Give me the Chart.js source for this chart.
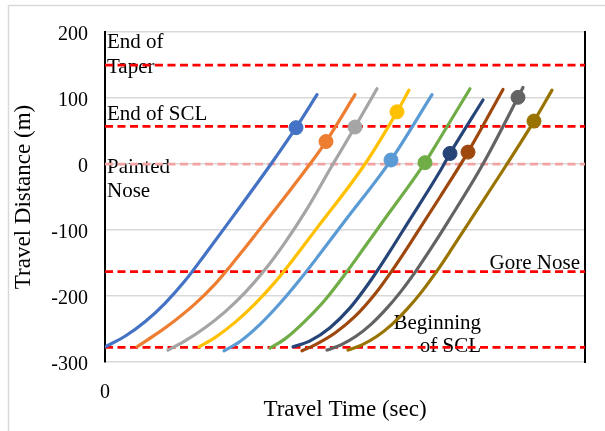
<!DOCTYPE html>
<html>
<head>
<meta charset="utf-8">
<script src="https://cdn.jsdelivr.net/npm/chart.js@4/dist/chart.umd.min.js"></script>
<style>
  html, body { margin: 0; padding: 0; background: #ffffff; }
  #wrap { position: relative; width: 605px; height: 431px; }
</style>
</head>
<body>
<div id="wrap"><canvas id="chart" width="605" height="431"></canvas></div>
<script>
// Vehicle trajectories: travel time (s) against travel distance (m)
const veh1Time  = [0, 2, 4, 6, 8, 10, 12, 16.6, 19.1, 21.2];
const veh1Dist  = [-277, -261, -239, -211, -177, -137, -96, 0, 55, 105];
const veh2Time  = [3.2, 5, 7, 9, 11, 13, 15, 20.5, 22.1, 25.0];
const veh2Dist  = [-277, -259, -237, -212, -182, -146, -108, 0, 34, 105];
const veh3Time  = [6.3, 8, 10, 12, 14, 16, 18, 20, 22.8, 25, 27.2];
const veh3Dist  = [-282, -268, -248, -224, -195, -160, -119, -73, 0, 56, 114];
const veh4Time  = [9.4, 11, 13, 15, 17, 19, 21, 26, 29.2, 30.4];
const veh4Dist  = [-277, -263, -240, -212, -179, -141, -101, 0, 79, 112];
const veh5Time  = [11.9, 13.5, 15.5, 17.5, 19.5, 21.5, 24, 28.6, 32.7];
const veh5Dist  = [-283, -269, -243, -211, -175, -136, -86, 6, 105];
const veh6Time  = [16.5, 18, 20, 22, 24, 26, 27.7, 32.0, 33.5, 36.5];
const veh6Dist  = [-279, -265, -238, -206, -167, -125, -89, 2, 39, 114];
const veh7Time  = [18.8, 20.5, 22.5, 24.5, 26.5, 28.5, 30.2, 33.5, 34.5, 37.8];
const veh7Dist  = [-277, -268, -248, -218, -178, -132, -91, -11, 16, 97];
const veh8Time  = [19.7, 21, 23, 25, 27, 29, 31, 33.5, 36.3, 39.8];
const veh8Dist  = [-283, -274, -256, -231, -197, -155, -109, -50, 18, 113];
const veh9Time  = [22.2, 23.6, 25.1, 26.6, 28.1, 29.6, 31.1, 32.6, 34.4, 37.8, 41.3, 41.8];
const veh9Dist  = [-282, -274, -261, -243, -220, -193, -162, -128, -85, 0, 101, 116];
const veh10Time = [24.3, 25.7, 27.2, 28.7, 30.2, 31.7, 33.2, 34.7, 36.5, 40.2, 42.9, 44.7];
const veh10Dist = [-282, -274, -261, -243, -220, -193, -162, -128, -86, 0, 65, 112];

// Highlighted point on each trajectory
const markerTime = [19.1, 22.1, 25.0, 29.2, 28.6, 32.0, 34.5, 36.3, 41.3, 42.9];
const markerDist = [55, 34, 56, 79, 6, 2, 16, 18, 101, 65];

// Reference locations along the ramp (m)
const refLevels = [150, 57, 0, -163, -278];
const yTicks = [200, 100, 0, -100, -200, -300];
const xTicks = [0];

const vehTimes = [veh1Time, veh2Time, veh3Time, veh4Time, veh5Time, veh6Time, veh7Time, veh8Time, veh9Time, veh10Time];
const vehDists = [veh1Dist, veh2Dist, veh3Dist, veh4Dist, veh5Dist, veh6Dist, veh7Dist, veh8Dist, veh9Dist, veh10Dist];
const vehColors = ['#4472C4', '#ED7D31', '#A5A5A5', '#FFC000', '#5B9BD5',
                   '#70AD47', '#264478', '#9E480E', '#636363', '#997300'];

const SERIF = "'Liberation Serif', 'Times New Roman', serif";
const X_MAX = 48;

const datasets = [];
refLevels.forEach(level => {
  datasets.push({
    data: [{ x: 0, y: level }, { x: X_MAX, y: level }],
    showLine: true,
    borderColor: level === 0 ? '#F4A3A3' : '#FF0000',
    borderWidth: 2.75,
    borderDash: [8, 4.5],
    pointRadius: 0,
    order: 500
  });
});
vehTimes.forEach((times, i) => {
  const color = vehColors[i];
  datasets.push({
    data: times.map((t, j) => ({ x: t, y: vehDists[i][j] })),
    showLine: true,
    borderColor: color,
    borderWidth: 3.2,
    borderCapStyle: 'round',
    pointRadius: 0,
    cubicInterpolationMode: 'monotone',
    order: 100 - 2 * i
  });
  datasets.push({
    data: [{ x: markerTime[i], y: markerDist[i] }],
    showLine: false,
    pointRadius: 7,
    pointBackgroundColor: color,
    pointBorderColor: color,
    pointBorderWidth: 1,
    order: 99 - 2 * i
  });
});

// Light frame around the whole figure
const framePlugin = {
  id: 'frame',
  beforeDraw(chart) {
    const ctx = chart.ctx;
    ctx.save();
    ctx.fillStyle = '#ffffff';
    ctx.fillRect(0, 0, chart.width, chart.height);
    ctx.strokeStyle = '#D9D9D9';
    ctx.lineWidth = 1.5;
    ctx.strokeRect(8.5, 5.5, 800, 600);
    ctx.restore();
  }
};

// Names of the reference locations, placed next to their dashed lines
const refNotes = [
  { level: 150,  lines: ['End of', 'Taper'], side: 'left',  dy: [-17, 8] },
  { level: 57,   lines: ['End of SCL'],      side: 'left',  dy: [-6] },
  { level: 0,    lines: ['Painted', 'Nose'], side: 'left',  dy: [9, 33] },
  { level: -163, lines: ['Gore Nose'],       side: 'right', dy: [-3], inset: 5 },
  { level: -278, lines: ['Beginning', 'of SCL'], side: 'right', dy: [-18, 5], inset: 104 }
];
const notePlugin = {
  id: 'notes',
  beforeDatasetsDraw(chart) {
    const { ctx, chartArea, scales } = chart;
    ctx.save();
    ctx.font = '21px ' + SERIF;
    ctx.fillStyle = '#000000';
    ctx.textBaseline = 'alphabetic';
    refNotes.forEach(n => {
      const yPix = scales.y.getPixelForValue(n.level);
      n.lines.forEach((txt, k) => {
        if (n.side === 'left') {
          ctx.textAlign = 'left';
          ctx.fillText(txt, chartArea.left + 2, yPix + n.dy[k]);
        } else {
          ctx.textAlign = 'right';
          ctx.fillText(txt, chartArea.right - n.inset, yPix + n.dy[k]);
        }
      });
    });
    ctx.restore();
  }
};

new Chart(document.getElementById('chart'), {
  type: 'scatter',
  data: { datasets },
  plugins: [framePlugin, notePlugin],
  options: {
    responsive: false,
    animation: false,
    events: [],
    layout: { padding: { top: 32, left: 0, right: 0, bottom: 0 } },
    plugins: { legend: { display: false }, tooltip: { enabled: false } },
    scales: {
      x: {
        type: 'linear',
        min: 0,
        max: X_MAX,
        position: 'bottom',
        afterBuildTicks: s => { s.ticks = xTicks.map(v => ({ value: v })); },
        grid: { display: false, drawTicks: false },
        border: { display: false },
        ticks: { font: { family: SERIF, size: 20 }, color: '#000000', padding: 19, maxRotation: 0 },
        title: {
          display: true,
          text: 'Travel Time (sec)',
          font: { family: SERIF, size: 23 },
          color: '#000000',
          padding: { top: 0, bottom: 7 }
        },
        afterFit: s => { s.height = 69; }
      },
      y: {
        type: 'linear',
        min: -300,
        max: 200,
        position: 'left',
        afterBuildTicks: s => { s.ticks = yTicks.map(v => ({ value: v })); },
        grid: { color: '#D9D9D9', lineWidth: 1.5, drawTicks: false },
        border: { display: true, color: '#000000', width: 2 },
        ticks: { font: { family: SERIF, size: 20 }, color: '#000000', padding: 17, labelOffset: 3 },
        title: {
          display: true,
          text: 'Travel Distance (m)',
          font: { family: SERIF, size: 23 },
          color: '#000000',
          padding: { top: 10, bottom: 0 }
        },
        afterFit: s => { s.width = 105; }
      },
      yRight: {
        type: 'linear',
        min: -300,
        max: 200,
        position: 'right',
        grid: { display: false, drawTicks: false },
        ticks: { display: false },
        border: { display: true, color: '#000000', width: 2 },
        afterFit: s => { s.width = 20; }
      }
    }
  }
});
</script>
</body>
</html>
